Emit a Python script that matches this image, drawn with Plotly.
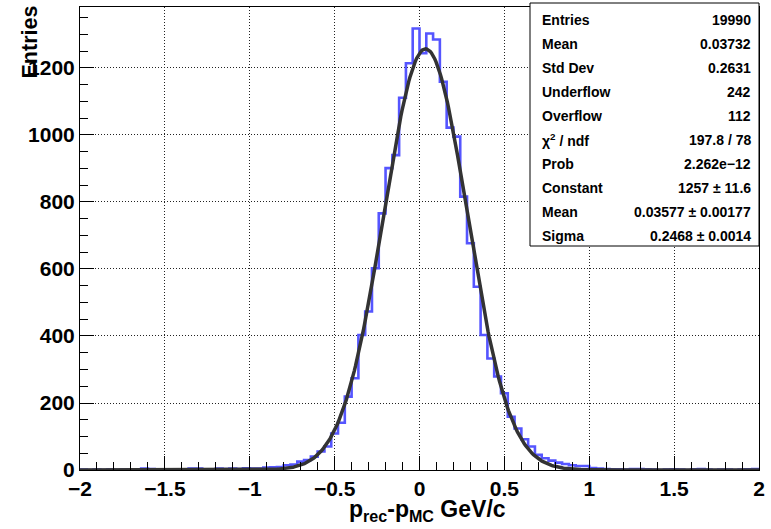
import numpy as np
import plotly.graph_objects as go

# ---- data ----
x_min, x_max, n_bins = -2.0, 2.0, 100
counts = [
    1, 0, 1, 0, 1, 0, 1, 1, 2, 4,
    3, 2, 1, 1, 2, 2, 4, 4, 2, 2,
    4, 3, 4, 3, 5, 4, 4, 7, 8, 9,
    14, 16, 25, 30, 40, 55, 70, 109, 141, 219,
    274, 403, 473, 602, 766, 901, 940, 1111, 1214, 1318,
    1244, 1303, 1285, 1159, 1022, 995, 816, 677, 547, 403,
    333, 279, 229, 159, 124, 92, 70, 45, 35, 28,
    22, 18, 14, 12, 12, 6, 4, 3, 2, 2,
    1, 3, 3, 2, 1, 0, 1, 2, 1, 0,
    2, 3, 1, 0, 1, 1, 0, 1, 2, 3,
]
fit_constant, fit_mean, fit_sigma = 1257.0, 0.03577, 0.2468

stat_labels = ["Entries", "Mean", "Std Dev", "Underflow", "Overflow",
               "χ<sup>2</sup> / ndf", "Prob", "Constant", "Mean", "Sigma"]
stat_values = ["19990", "0.03732", "0.2631", "242", "112", "197.8 / 78",
               "2.262e−12", "1257 ± 11.6", "0.03577 ± 0.00177", "0.2468 ± 0.0014"]

x_title = "<b>p<sub>rec</sub>-p<sub>MC</sub> GeV/c</b>"
y_title = "<b>Entries</b>"

# ---- build figure ----
edges = np.linspace(x_min, x_max, n_bins + 1)
hx = np.concatenate([[edges[0]], edges, [edges[-1]]])
hy = np.concatenate([[0], counts, [counts[-1]], [0]])

xf = np.linspace(x_min, x_max, 600)
yf = fit_constant * np.exp(-0.5 * ((xf - fit_mean) / fit_sigma) ** 2)

fig = go.Figure()
fig.add_trace(go.Scatter(x=hx, y=hy, mode="lines", line=dict(shape="hv", color="#5555ff", width=2.6),
                         hoverinfo="skip", showlegend=False))
fig.add_trace(go.Scatter(x=xf, y=yf, mode="lines", line=dict(color="#333333", width=3.5),
                         hoverinfo="skip", showlegend=False))

tickfont = dict(family="Liberation Sans", size=21, color="black", weight="bold")
grid_dash = "1px,2px"
fig.update_xaxes(range=[x_min, x_max], dtick=0.5, tick0=-2, ticks="inside", ticklen=14, tickwidth=1,
                 tickcolor="black", showline=True, linecolor="black", linewidth=1, mirror=True,
                 showgrid=True, gridcolor="#222222", griddash=grid_dash, gridwidth=1, zeroline=False,
                 tickfont=tickfont,
                 minor=dict(ticks="inside", ticklen=8, dtick=0.1, tickcolor="black", showgrid=False))
fig.update_yaxes(range=[0, 1382], dtick=200, ticks="inside", ticklen=14, tickwidth=1,
                 tickcolor="black", showline=True, linecolor="black", linewidth=1, mirror=True,
                 showgrid=True, gridcolor="#222222", griddash=grid_dash, gridwidth=1, zeroline=False,
                 tickfont=tickfont,
                 minor=dict(ticks="inside", ticklen=8, dtick=50, tickcolor="black", showgrid=False))

W, H = 771, 529
L, R, T, B = 80, 759, 7, 470
pw, ph = R - L, B - T
def px(xp):
    return (xp - L) / pw
def py(yp):
    return (B - yp) / ph

anns = []
anns.append(dict(text=x_title, x=px(428), y=py(510), xref="paper", yref="paper",
                 xanchor="center", yanchor="middle", showarrow=False,
                 font=dict(family="Liberation Sans", size=23, color="black")))
anns.append(dict(text=y_title, x=px(29), y=py(4), xref="paper", yref="paper",
                 xanchor="center", yanchor="top", textangle=-90, showarrow=False,
                 font=dict(family="Liberation Sans", size=21.5, color="black")))

box_l, box_r, box_t, box_b = 530, 759, 3, 246
for i, (lab, val) in enumerate(zip(stat_labels, stat_values)):
    yc = 20 + 24 * i
    anns.append(dict(text="<b>" + lab + "</b>", x=px(540), y=py(yc), xref="paper", yref="paper",
                     xanchor="left", yanchor="middle", showarrow=False,
                     font=dict(family="Liberation Sans", size=14, color="black")))
    anns.append(dict(text="<b>" + val + "</b>", x=px(753), y=py(yc), xref="paper", yref="paper",
                     xanchor="right", yanchor="middle", showarrow=False,
                     font=dict(family="Liberation Sans", size=14, color="black")))

fig.update_layout(
    width=W, height=H,
    margin=dict(l=L, r=W - R, t=T, b=H - B, pad=0),
    paper_bgcolor="white", plot_bgcolor="white",
    annotations=anns,
    shapes=[dict(type="rect", xref="paper", yref="paper", x0=px(box_l), x1=px(box_r),
                 y0=py(box_b), y1=py(box_t), line=dict(color="black", width=1),
                 fillcolor="white", layer="above")],
)

fig.write_html("out.html")
